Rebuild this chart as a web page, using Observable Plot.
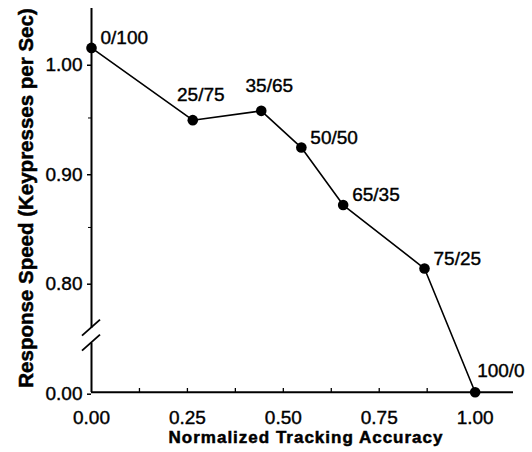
<!DOCTYPE html>
<html><head><meta charset="utf-8">
<script src="https://cdn.jsdelivr.net/npm/d3@7"></script>
<script src="https://cdn.jsdelivr.net/npm/@observablehq/plot@0.6"></script>
<style>body{margin:0;background:#fff}</style>
</head><body><div id="chart"></div>
<script>
const accuracy = [0, 0.264, 0.4425, 0.547, 0.656, 0.868, 1.0];
const speed = [1.014, 0.948, 0.9565, 0.923, 0.8705, 0.8125, 0.0];
const labels = ["0/100", "25/75", "35/65", "50/50", "65/35", "75/25", "100/0"];
const xTicks = [0, 0.25, 0.5, 0.75, 1.0];
const xMinorTicks = [0.125, 0.25, 0.375, 0.5, 0.625, 0.75, 0.875, 1.0];
const yTicks = [0, 0.8, 0.9, 1.0];
const yMinorTicks = [0.85, 0.95];
const xTitle = "Normalized Tracking Accuracy";
const yTitle = "Response Speed (Keypresses per Sec)";

const data = accuracy.map((x, i) => ({x, y: speed[i], label: labels[i]}));
const aboveSet = new Set(["25/75", "35/65"]);
const lowSet = new Set(["100/0"]);
const groupAbove = data.filter(d => aboveSet.has(d.label));
const groupLow = data.filter(d => lowSet.has(d.label));
const groupSide = data.filter(d => !aboveSet.has(d.label) && !lowSet.has(d.label));

const font = "'Liberation Sans', Arial, Helvetica, sans-serif";
const fmt = d3.format(".2f");

const plot = Plot.plot({
  width: 532,
  height: 452,
  marginLeft: 91,
  marginRight: 19,
  marginTop: 8,
  marginBottom: 60,
  style: {fontFamily: font, background: "white", color: "black"},
  x: {domain: [0, 1.1]},
  y: {type: "linear", domain: [0, 0.8, 1.05], range: [391.7, 281.7, 8]},
  marks: [
    Plot.ruleY([0], {stroke: "black", strokeWidth: 2}),
    Plot.ruleX([0], {stroke: "black", strokeWidth: 2}),
    Plot.axisY({ticks: yTicks, tickSize: 4, tickPadding: 5, fontSize: 19, tickFormat: fmt, label: null, dy: 2, strokeWidth: 1.5}),
    Plot.axisY({ticks: yMinorTicks, tickSize: 3, text: null, label: null}),
    Plot.axisX({ticks: xTicks, tickSize: 0, tickPadding: 18, fontSize: 19, tickFormat: fmt, label: null}),
    Plot.axisX({ticks: xMinorTicks, tickSize: -4, text: null, label: null, strokeWidth: 1.3}),
    Plot.line(data, {x: "x", y: "y", stroke: "black", strokeWidth: 1.6}),
    Plot.dot(data, {x: "x", y: "y", r: 5.3, fill: "black"}),
    Plot.text(groupSide, {x: "x", y: "y", text: "label", textAnchor: "start", dx: 9, dy: -10, fontSize: 19}),
    Plot.text(groupAbove, {x: "x", y: "y", text: "label", textAnchor: "middle", dx: 8, dy: -25, fontSize: 19}),
    Plot.text(groupLow, {x: "x", y: "y", text: "label", textAnchor: "start", dx: 2, dy: -21, fontSize: 19}),
    Plot.text([yTitle], {frameAnchor: "left", textAnchor: "middle", lineAnchor: "middle", rotate: -90, dx: -65, dy: -2.5, fontSize: 20.5, fontWeight: "bold"}),
    Plot.text([xTitle], {frameAnchor: "bottom", textAnchor: "middle", lineAnchor: "middle", dx: 3.5, dy: 45, fontSize: 17, fontWeight: "bold"})
  ]
});

document.getElementById("chart").appendChild(plot);

// axis break decoration, positioned from the scales
const xs = plot.scale("x"), ys = plot.scale("y");
const svg = d3.select(plot);
const x0 = xs.apply(0);
const yc = (ys.apply(0) + ys.apply(0.8)) / 2 - 1.5;
svg.append("rect").attr("x", x0 - 3).attr("y", yc - 7.5).attr("width", 6).attr("height", 15).attr("fill", "white");
[-7.5, 7.5].forEach(o => {
  svg.append("line")
    .attr("x1", x0 - 9).attr("y1", yc + o + 8)
    .attr("x2", x0 + 9).attr("y2", yc + o - 8)
    .attr("stroke", "black").attr("stroke-width", 1.8);
});
svg.selectAll("text").filter(function() { return this.textContent === xTitle; }).attr("letter-spacing", 1);
// heavier text, like the printed original
svg.selectAll("text").filter(function() { return this.textContent !== xTitle && this.textContent !== yTitle; })
  .attr("stroke", "black").attr("stroke-width", 0.4);
svg.selectAll("text").filter(function() { return this.textContent === xTitle || this.textContent === yTitle; })
  .attr("stroke", "black").attr("stroke-width", 0.5);
</script>
</body></html>
